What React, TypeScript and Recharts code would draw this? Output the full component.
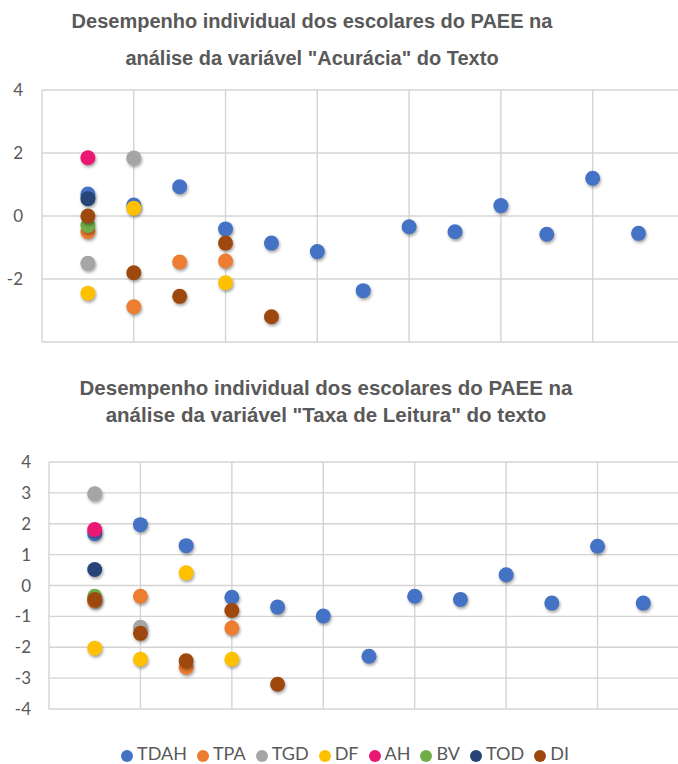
import React from 'react';
import { ScatterChart, Scatter, XAxis, YAxis, CartesianGrid, Legend, ReferenceLine } from 'recharts';

// series names, in legend / drawing order
const SERIES = ['TDAH', 'TPA', 'TGD', 'DF', 'AH', 'BV', 'TOD', 'DI'];

const COLORS: Record<string, string> = {
  TDAH: '#4472C4',
  TPA: '#ED7D31',
  TGD: '#A5A5A5',
  DF: '#FFC000',
  AH: '#EB1773',
  BV: '#70AD47',
  TOD: '#264478',
  DI: '#9E480E',
};

// values per student position (1, 2, 3 ...), null = no point
const accTDAH = [0.7, 0.35, 0.93, -0.41, -0.86, -1.13, -2.37, -0.34, -0.5, 0.33, -0.58, 1.2, -0.55];
const accTPA = [-0.5, -2.88, -1.46, -1.43];
const accTGD = [-1.5, 1.84];
const accDF = [-2.45, 0.25, null, -2.12];
const accAH = [1.85];
const accBV = [-0.3];
const accTOD = [0.55];
const accDI = [0.0, -1.8, -2.55, -0.86, -3.2];

const rateTDAH = [1.68, 1.97, 1.29, -0.38, -0.7, -0.99, -2.29, -0.35, -0.45, 0.35, -0.57, 1.27, -0.57];
const rateTPA = [-0.5, -0.35, -2.65, -1.38];
const rateTGD = [2.97, -1.35];
const rateDF = [-2.03, -2.39, 0.41, -2.39];
const rateAH = [1.81];
const rateBV = [-0.35];
const rateTOD = [0.52];
const rateDI = [-0.45, -1.55, -2.44, -0.81, -3.2];

const ACC_TICKS = [-4, -2, 0, 2, 4];
const RATE_TICKS = [-4, -3, -2, -1, 0, 1, 2, 3, 4];
const X_TICKS = [0, 2, 4, 6, 8, 10, 12];

const ACC = [accTDAH, accTPA, accTGD, accDF, accAH, accBV, accTOD, accDI];
const RATE = [rateTDAH, rateTPA, rateTGD, rateDF, rateAH, rateBV, rateTOD, rateDI];

const toPoints = (vals: (number | null)[]) =>
  vals
    .map((v, i) => (v === null ? null : { x: i + 1, y: v }))
    .filter((p) => p !== null) as { x: number; y: number }[];

const TEXT = '#595959';
const GRID = '#D4D4D4';
const LABEL_FONT = 'Lato, "Open Sans", sans-serif';

const Dot = (props: any) => (
  <circle
    cx={props.cx}
    cy={props.cy}
    r={7.5}
    fill={props.fill}
    style={{ filter: 'drop-shadow(1px 2px 1.5px rgba(0,0,0,0.35))' }}
  />
);

function Title({ lines, top, cx, size, gap }: { lines: string[]; top: number; cx: number; size: number; gap: number }) {
  return (
    <>
      {lines.map((l, i) => (
        <div
          key={i}
          style={{
            position: 'absolute',
            left: cx - 340,
            width: 680,
            top: top + i * gap - size * 0.6,
            textAlign: 'center',
            fontFamily: '"Liberation Sans", Arial, sans-serif',
            fontWeight: 'bold',
            fontSize: size,
            lineHeight: `${size * 1.2}px`,
            color: TEXT,
            whiteSpace: 'nowrap',
          }}
        >
          {l}
        </div>
      ))}
    </>
  );
}

export default function App() {
  return (
    <div style={{ position: 'absolute', left: 0, top: 0, width: 678, height: 764, background: '#fff', overflow: 'hidden' }}>
      <Title
        lines={['Desempenho individual dos escolares do PAEE na', 'análise da variável "Acurácia" do Texto']}
        top={21}
        cx={312}
        size={20}
        gap={37}
      />
      <div style={{ position: 'absolute', left: 0, top: 80 }}>
        <ScatterChart width={678} height={270} margin={{ top: 10, right: 0, bottom: 8, left: 0 }}>
          <CartesianGrid stroke={GRID} strokeWidth={1.4} syncWithTicks horizontal={false} />
          {ACC_TICKS.map((t) => (
            <ReferenceLine key={t} y={t} stroke={GRID} strokeWidth={1.4} />
          ))}
          <XAxis type="number" dataKey="x" domain={[0, 13.86]} ticks={X_TICKS} hide />
          <YAxis
            type="number"
            dataKey="y"
            domain={[-4, 4]}
            ticks={ACC_TICKS}
            width={42}
            axisLine={false}
            tickLine={false}
            tickSize={0}
            tickMargin={19}
            tick={{ fill: TEXT, fontSize: 17, fontFamily: LABEL_FONT }}
          />
          {SERIES.map((s, i) => (
            <Scatter key={s} name={s} data={toPoints(ACC[i])} fill={COLORS[s]} shape={Dot} isAnimationActive={false} />
          ))}
        </ScatterChart>
      </div>
      <Title
        lines={['Desempenho individual dos escolares do PAEE na', 'análise da variável "Taxa de Leitura" do texto']}
        top={388}
        cx={326}
        size={20.5}
        gap={27}
      />
      <div style={{ position: 'absolute', left: 0, top: 440 }}>
        <ScatterChart width={678} height={324} margin={{ top: 22, right: 0, bottom: 33, left: 0 }}>
          <CartesianGrid stroke={GRID} strokeWidth={1.4} syncWithTicks horizontal={false} />
          {RATE_TICKS.map((t) => (
            <ReferenceLine key={t} y={t} stroke={GRID} strokeWidth={1.4} />
          ))}
          <XAxis type="number" dataKey="x" domain={[0, 13.76]} ticks={X_TICKS} hide />
          <YAxis
            type="number"
            dataKey="y"
            domain={[-4, 4]}
            ticks={RATE_TICKS}
            width={49}
            axisLine={false}
            tickLine={false}
            tickSize={0}
            tickMargin={18}
            tick={{ fill: TEXT, fontSize: 17, fontFamily: LABEL_FONT }}
          />
          {SERIES.map((s, i) => (
            <Scatter key={s} name={s} data={toPoints(RATE[i])} fill={COLORS[s]} shape={Dot} isAnimationActive={false} />
          ))}
          <Legend
            verticalAlign="bottom"
            iconType="circle"
            iconSize={12}
            itemSorter={null as any}
            formatter={(v) => <span style={{ color: TEXT, fontSize: 18, fontFamily: LABEL_FONT }}>{v}</span>}
            wrapperStyle={{ bottom: 0, left: 0, width: 700 }}
          />
        </ScatterChart>
      </div>
    </div>
  );
}
